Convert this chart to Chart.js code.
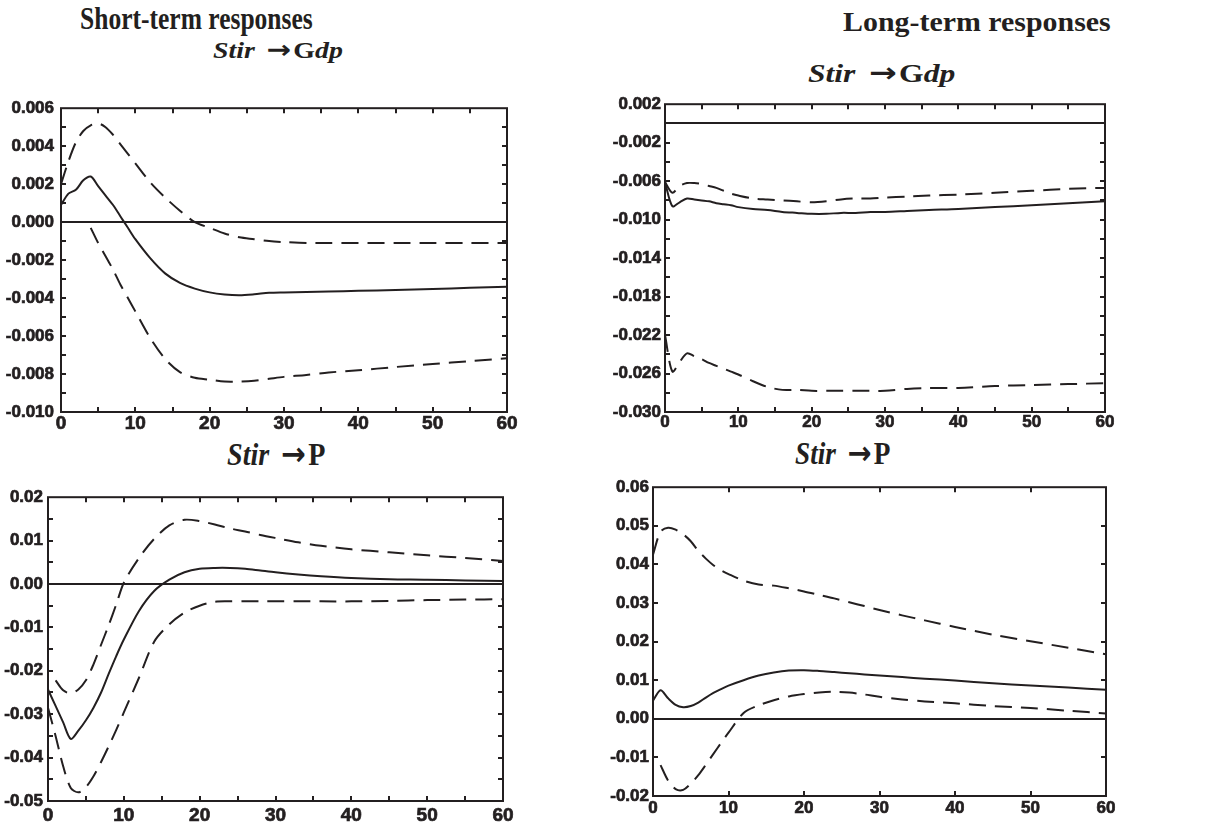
<!DOCTYPE html>
<html>
<head>
<meta charset="utf-8">
<script src="https://cdn.jsdelivr.net/npm/chart.js@4.4.1/dist/chart.umd.min.js"></script>
<style>
  body { margin: 0; background: #fff; width: 1211px; height: 827px; position: relative; overflow: hidden; color: #231f20; }
  .txt { position: absolute; font-family: "Liberation Serif", "Times New Roman", serif; font-weight: bold; white-space: nowrap; line-height: 1; transform-origin: left top; }
  .txt i { font-style: italic; }
  .txt .arr { font-family: "DejaVu Sans", sans-serif; font-weight: bold; font-size: 1.05em; line-height: 0.9; margin: 0 0.08em 0 0.4em; }
  .box { position: absolute; }
</style>
</head>
<body>

<div class="txt fit" data-x="80" data-cap="8.5" data-size="31" data-w="233">Short-term responses</div>
<div class="txt fit" data-x="843" data-cap="13" data-size="28" data-w="268">Long-term responses</div>
<div class="txt fit" data-x="213" data-cap="42.3" data-size="24" data-w="130"><i>Stir</i><span class="arr">&rarr;</span>G<i>dp</i></div>
<div class="txt fit" data-x="808" data-cap="66" data-size="26" data-w="147"><i>Stir</i><span class="arr">&rarr;</span>G<i>dp</i></div>
<div class="txt fit" data-x="227" data-cap="444" data-size="31" data-w="98"><i>Stir</i><span class="arr">&rarr;</span>P</div>
<div class="txt fit" data-x="795" data-cap="443.5" data-size="31" data-w="95"><i>Stir</i><span class="arr">&rarr;</span>P</div>

<div class="box" id="b1"><canvas id="c1"></canvas></div>
<div class="box" id="b2"><canvas id="c2"></canvas></div>
<div class="box" id="b3"><canvas id="c3"></canvas></div>
<div class="box" id="b4"><canvas id="c4"></canvas></div>

<script>
"use strict";

// horizon (periods after the shock)
const horizon = [0,1,2,3,4,5,6,7,8,9,10,12,14,16,18,20,22,24,26,28,30,33,36,40,45,50,55,60];
const xTicks = [0, 10, 20, 30, 40, 50, 60];

// short-term: Stir -> Gdp
const srGdp      = [0.0009,0.0015,0.0017,0.0022,0.0024,0.0019,0.0014,0.0009,0.0003,-0.0003,-0.0009,-0.0019,-0.0027,-0.0032,-0.0035,-0.0037,-0.00381,-0.00385,-0.00380,-0.00372,-0.00370,-0.00368,-0.00365,-0.00362,-0.00357,-0.00352,-0.00346,-0.00340];
const srGdpUpper = [0.0020,0.0032,0.0042,0.0048,0.0051,0.0052,0.0050,0.0046,0.0041,0.0036,0.0031,0.0021,0.0013,0.0006,0.0000,-0.0003,-0.0006,-0.0008,-0.0009,-0.0010,-0.00105,-0.0011,-0.0011,-0.0011,-0.0011,-0.0011,-0.0011,-0.0011];
const srGdpLower = [null,null,null,null,-0.0003,-0.0011,-0.0018,-0.0025,-0.0033,-0.0040,-0.0047,-0.0061,-0.0072,-0.0079,-0.0082,-0.0083,-0.0084,-0.0084,-0.00835,-0.00825,-0.00815,-0.00805,-0.00792,-0.00780,-0.00763,-0.00747,-0.00732,-0.00717];
const srGdpTicks = [-0.010, 0.006, 0.002];

// long-term: Stir -> Gdp
const lrGdp      = [-0.0061,-0.0086,-0.0082,-0.0078,-0.0079,-0.0080,-0.0081,-0.0083,-0.0084,-0.0085,-0.0087,-0.0089,-0.0090,-0.0092,-0.0093,-0.0094,-0.0094,-0.0093,-0.0093,-0.0092,-0.0092,-0.0091,-0.0090,-0.0089,-0.0087,-0.0085,-0.0083,-0.0081];
const lrGdpUpper = [-0.0061,-0.0072,-0.0065,-0.0062,-0.0062,-0.0063,-0.0065,-0.0067,-0.0070,-0.0073,-0.0075,-0.0078,-0.0079,-0.0080,-0.0081,-0.0082,-0.0081,-0.0079,-0.0078,-0.0078,-0.0077,-0.0076,-0.0075,-0.0074,-0.0072,-0.0070,-0.0068,-0.0067];
const lrGdpLower = [-0.0220,-0.0258,-0.0248,-0.0239,-0.0242,-0.0245,-0.0249,-0.0252,-0.0255,-0.0258,-0.0261,-0.0268,-0.0274,-0.0277,-0.0277,-0.0278,-0.0278,-0.0278,-0.0278,-0.0278,-0.0278,-0.0276,-0.0275,-0.0275,-0.0273,-0.0272,-0.0271,-0.0270];
const lrGdpTicks = [-0.030, 0.002, 0.004];

// short-term: Stir -> P
const srP      = [-0.0243,-0.0281,-0.0319,-0.0357,-0.0338,-0.0314,-0.0285,-0.0250,-0.0207,-0.0166,-0.0128,-0.0062,-0.0016,0.0010,0.0027,0.0035,0.0037,0.0037,0.0035,0.0031,0.0027,0.0022,0.0018,0.0014,0.0011,0.0010,0.0008,0.0007];
const srPUpper = [null,-0.0222,-0.0245,-0.0252,-0.0243,-0.0222,-0.0185,-0.0140,-0.0095,-0.0047,0.0003,0.0060,0.0104,0.0135,0.0148,0.0145,0.0137,0.0128,0.0121,0.0113,0.0106,0.0096,0.0088,0.0080,0.0073,0.0066,0.0060,0.0053];
const srPLower = [-0.0285,-0.0350,-0.0420,-0.0470,-0.0480,-0.0468,-0.0443,-0.0410,-0.0374,-0.0336,-0.0296,-0.0216,-0.0133,-0.0093,-0.0066,-0.0050,-0.0041,-0.0040,-0.0040,-0.0040,-0.0040,-0.0040,-0.0040,-0.0040,-0.0039,-0.0037,-0.0036,-0.0035];
const srPTicks = [-0.05, 0.02, 0.01];

// long-term: Stir -> P
const lrP      = [0.0047,0.0074,0.0053,0.0036,0.0030,0.0033,0.0042,0.0055,0.0067,0.0077,0.0086,0.0100,0.0112,0.0120,0.0125,0.0126,0.0124,0.0121,0.0118,0.0115,0.0112,0.0108,0.0104,0.0099,0.0092,0.0086,0.0081,0.0075];
const lrPUpper = [0.0425,0.0485,0.0495,0.0490,0.0478,0.0460,0.0435,0.0415,0.0398,0.0385,0.0375,0.0358,0.0348,0.0345,0.0338,0.0330,0.0321,0.0312,0.0302,0.0292,0.0282,0.0268,0.0255,0.0238,0.0218,0.0201,0.0184,0.0167];
const lrPLower = [null,-0.0120,-0.0160,-0.0182,-0.0184,-0.0168,-0.0146,-0.0119,-0.0091,-0.0063,-0.0036,0.0015,0.0035,0.0048,0.0058,0.0064,0.0068,0.0070,0.0068,0.0063,0.0057,0.0050,0.0045,0.0040,0.0033,0.0028,0.0021,0.0014];
const lrPTicks = [-0.02, 0.06, 0.01];

const ink = '#231f20';
const dash = [17, 9];

// stretch the serif headings to the widths they have in the figure
document.querySelectorAll('.fit').forEach(function (el) {
    const size = +el.dataset.size;
    el.style.fontSize = size + 'px';
    el.style.left = el.dataset.x + 'px';
    el.style.top = (+el.dataset.cap - 0.1755 * size) + 'px';
    el.style.transform = 'scaleX(' + (+el.dataset.w / el.offsetWidth) + ')';
});

// zero line, box frame and inward tick marks
const frame = {
    id: 'frame',
    beforeDatasetsDraw(chart) {
        const { ctx, chartArea: a, scales: { y } } = chart;
        const y0 = Math.round(y.getPixelForValue(0));
        ctx.save();
        ctx.strokeStyle = ink;
        ctx.lineWidth = 2;
        ctx.beginPath();
        ctx.moveTo(a.left, y0);
        ctx.lineTo(a.right, y0);
        ctx.stroke();
        ctx.restore();
    },
    afterDatasetsDraw(chart, args, opts) {
        const { ctx, chartArea: a, scales: { x, y } } = chart;
        const len = 5;
        ctx.save();
        ctx.strokeStyle = ink;
        ctx.lineWidth = 2;
        ctx.strokeRect(a.left, a.top, a.right - a.left, a.bottom - a.top);
        ctx.beginPath();
        const nx = Math.round((x.max - x.min) / opts.xMinor);
        for (let i = 1; i < nx; i++) {
            const px = Math.round(x.getPixelForValue(x.min + i * opts.xMinor));
            ctx.moveTo(px, a.top); ctx.lineTo(px, a.top + len);
            ctx.moveTo(px, a.bottom); ctx.lineTo(px, a.bottom - len);
        }
        const ny = Math.round((y.max - y.min) / opts.yMinor);
        for (let i = 1; i < ny; i++) {
            const py = Math.round(y.getPixelForValue(y.min + i * opts.yMinor));
            ctx.moveTo(a.left, py); ctx.lineTo(a.left + len, py);
            ctx.moveTo(a.right, py); ctx.lineTo(a.right - len, py);
        }
        ctx.stroke();
        ctx.restore();
    }
};

function series(values, pattern) {
    return {
        data: horizon.map((h, i) => ({ x: h, y: values[i] })),
        borderColor: ink,
        borderWidth: 2,
        borderDash: pattern,
        pointRadius: 0,
        tension: 0.3,
        spanGaps: false
    };
}

// p: plot-area box in page pixels, yW: width kept for the y labels
function makePanel(n, p, lines, yTicks, opts) {
    const padTop = 12, padRight = 14, xH = 28;
    const box = document.getElementById('b' + n);
    const cv = document.getElementById('c' + n);
    const w = p.R - p.L + opts.yW + padRight;
    const h = p.B - p.T + padTop + xH;
    box.style.left = (p.L - opts.yW) + 'px';
    box.style.top = (p.T - padTop) + 'px';
    cv.width = w; cv.height = h;
    cv.style.width = w + 'px'; cv.style.height = h + 'px';

    new Chart(cv, {
        type: 'line',
        data: {
            datasets: [series(lines[0], []), series(lines[1], dash), series(lines[2], dash)]
        },
        options: {
            responsive: false,
            animation: false,
            devicePixelRatio: 1,
            layout: { padding: { top: padTop, right: padRight, left: 0, bottom: 0 } },
            plugins: {
                legend: { display: false },
                tooltip: { enabled: false },
                frame: { xMinor: opts.xMinor, yMinor: opts.yMinor }
            },
            scales: {
                x: {
                    type: 'linear',
                    min: xTicks[0],
                    max: xTicks[xTicks.length - 1],
                    afterFit: s => { s.height = xH; },
                    grid: { display: false, drawTicks: false },
                    border: { display: false },
                    ticks: {
                        stepSize: xTicks[1] - xTicks[0],
                        autoSkip: false,
                        maxRotation: 0,
                        padding: opts.xPad,
                        color: ink,
                        textStrokeColor: ink,
                        textStrokeWidth: 0.7,
                        font: { family: '"Liberation Sans", Arial, sans-serif', size: opts.xFont, weight: 'bold' }
                    }
                },
                y: {
                    type: 'linear',
                    min: yTicks[0],
                    max: yTicks[1],
                    afterFit: s => { s.width = opts.yW; },
                    grid: { display: false, drawTicks: false },
                    border: { display: false },
                    ticks: {
                        stepSize: yTicks[2],
                        autoSkip: false,
                        padding: opts.yPad,
                        color: ink,
                        textStrokeColor: ink,
                        textStrokeWidth: 0.7,
                        font: { family: '"Liberation Sans", Arial, sans-serif', size: 17, weight: 'bold' },
                        callback: v => (Math.abs(v) < 1e-9 ? 0 : v).toFixed(opts.dec)
                    }
                }
            }
        },
        plugins: [frame]
    });
}

makePanel(1, { L: 61, R: 507, T: 103, B: 412 }, [srGdp, srGdpUpper, srGdpLower], srGdpTicks,
    { yW: 61, yPad: 7, xPad: 0, xFont: 19, dec: 3, xMinor: 5, yMinor: 0.001 });
makePanel(2, { L: 665, R: 1105, T: 102, B: 412 }, [lrGdp, lrGdpUpper, lrGdpLower], lrGdpTicks,
    { yW: 62, yPad: 4, xPad: 0, xFont: 17, dec: 3, xMinor: 5, yMinor: 0.002 });
makePanel(3, { L: 48, R: 503, T: 494, B: 801 }, [srP, srPUpper, srPLower], srPTicks,
    { yW: 48, yPad: 5, xPad: 3, xFont: 19, dec: 2, xMinor: 5, yMinor: 0.005 });
makePanel(4, { L: 653, R: 1106, T: 485, B: 796 }, [lrP, lrPUpper, lrPLower], lrPTicks,
    { yW: 56, yPad: 4, xPad: 2, xFont: 17, dec: 2, xMinor: 10, yMinor: 0.01 });
</script>
</body>
</html>
